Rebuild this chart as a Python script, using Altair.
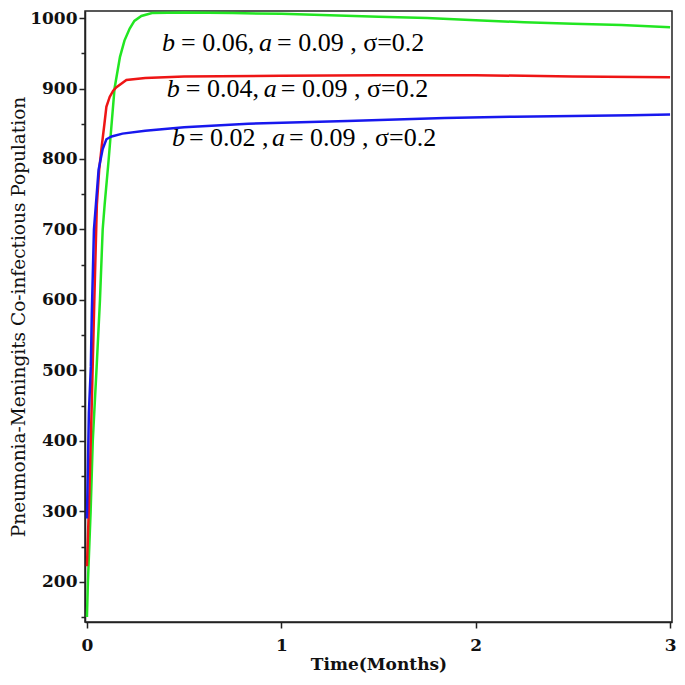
import altair as alt
import pandas as pd

# ---- data ----
green_t = [0, 0.005, 0.019, 0.03, 0.049, 0.067, 0.081, 0.091, 0.112, 0.142, 0.17, 0.193,
           0.22, 0.244, 0.28, 0.335, 0.5, 0.75, 1.0, 1.25, 1.5, 1.75, 2.0, 2.25, 2.5, 2.75, 3.0]
green_v = [150, 200, 300, 400, 500, 600, 700, 735, 800, 900, 945, 968,
           985, 996, 1003, 1007, 1008, 1007, 1006, 1004, 1002, 1000, 997, 994, 992, 990, 987]

red_t = [0, 0.013, 0.025, 0.038, 0.051, 0.063, 0.076, 0.09, 0.1, 0.117, 0.135, 0.152,
         0.203, 0.3, 0.5, 1.0, 1.5, 2.0, 2.5, 3.0]
red_v = [222, 330, 455, 600, 735, 785, 818, 850, 874, 888, 897, 902,
         912, 915, 917, 918, 919, 919, 917, 916]

blue_t = [0, 0.01, 0.02, 0.025, 0.036, 0.046, 0.06, 0.081, 0.1, 0.127, 0.183, 0.3,
          0.5, 0.83, 1.34, 1.84, 2.2, 2.8, 3.0]
blue_v = [290, 440, 505, 580, 700, 735, 785, 814, 828, 832, 836, 840,
          845, 850, 854, 858, 860, 862, 863]

series_names = ["b006", "b004", "b002"]
series_colors = ["#22e622", "#ee1515", "#1818ee"]

# annotation texts (italic b and a)
ann_t = [0.386, 0.411, 0.437]
ann_y = [964, 899, 830]
ann_segments = [["b", "= 0.06,", "a", "= 0.09 , σ=0.2"],
                ["b", "= 0.04,", "a", "= 0.09 , σ=0.2"],
                ["b", "= 0.02 ,", "a", "= 0.09 , σ=0.2"]]
ann_italic = [True, False, True, False]

x_ticks = [0, 0.5, 1, 1.5, 2, 2.5, 3]
y_ticks = list(range(150, 1001, 50))

# ---- layout ----
W, H = 587, 611
X_DOM = [-0.01, 3.01]
Y_DOM = [143, 1010]
seg_dx = [[0, 19, 97, 115], [0, 19, 97, 114], [0, 17, 100, 117]]
px_per_unit = W / (X_DOM[1] - X_DOM[0])

rows = []
for name, ts, vs in [("b006", green_t, green_v), ("b004", red_t, red_v), ("b002", blue_t, blue_v)]:
    for i, (t, v) in enumerate(zip(ts, vs)):
        rows.append({"series": name, "t": t, "v": v, "order": i})
df = pd.DataFrame(rows)

arows = []
for k in range(3):
    for j, seg in enumerate(ann_segments[k]):
        arows.append({"t": ann_t[k] + seg_dx[k][j] / px_per_unit, "v": ann_y[k],
                      "text": seg, "italic": ann_italic[j]})
adf = pd.DataFrame(arows)

serif = "Liberation Serif"
tickfont = "DejaVu Serif"

xscale = alt.Scale(domain=X_DOM, nice=False, zero=False)
yscale = alt.Scale(domain=Y_DOM, nice=False, zero=False)

xaxis = alt.Axis(values=x_ticks,
                 labelExpr="datum.value % 1 ? '' : datum.label",
                 format="d", tickSize=6,
                 tickDash={"condition": {"test": "datum.value % 1 != 0", "value": [4, 20]}, "value": [1, 0]},
                 labelPadding=9, titlePadding=3)
yaxis = alt.Axis(values=y_ticks,
                 labelExpr="datum.value % 100 ? '' : datum.label",
                 format="d", tickSize=6,
                 tickDash={"condition": {"test": "datum.value % 100 != 0", "value": [4, 20]}, "value": [1, 0]},
                 labelPadding=2, titlePadding=1)

X = alt.X("t:Q", scale=xscale, title="Time(Months)", axis=xaxis)
Y = alt.Y("v:Q", scale=yscale, title="Pneumonia-Meningits Co-infectious Population", axis=yaxis)

lines = alt.Chart(df).mark_line(strokeWidth=2.5, clip=True).encode(
    x=X, y=Y,
    color=alt.Color("series:N", scale=alt.Scale(domain=series_names, range=series_colors), legend=None),
    order="order:Q",
    detail="series:N",
)

txt_norm = alt.Chart(adf).transform_filter("!datum.italic").mark_text(
    align="left", baseline="middle", font=serif, fontSize=26, color="black"
).encode(x=X, y=Y, text="text:N")

txt_ital = alt.Chart(adf).transform_filter("datum.italic").mark_text(
    align="left", baseline="middle", font=serif, fontSize=26, fontStyle="italic", color="black"
).encode(x=X, y=Y, text="text:N")

chart = alt.layer(lines, txt_norm, txt_ital).properties(
    width=W, height=H,
    autosize=alt.AutoSizeParams(type="none"),
    padding={"left": 77, "top": 3, "right": 5, "bottom": 55},
).configure_view(stroke="#222222", strokeWidth=1.5).configure_axis(
    grid=False, domainColor="#222222", domainWidth=1.5, tickColor="#222222", tickWidth=1.5,
    labelFont=tickfont, labelFontSize=17, labelFontWeight="bold", labelColor="#111111",
    titleFont=tickfont, titleFontSize=17, titleFontWeight="bold", titleColor="#111111",
    labelFlush=False, labelOverlap=False,
).configure_axisY(titleFontWeight="normal", titleFontSize=18.5)

chart.save("out.html", embed_options={"renderer": "svg", "actions": False})
